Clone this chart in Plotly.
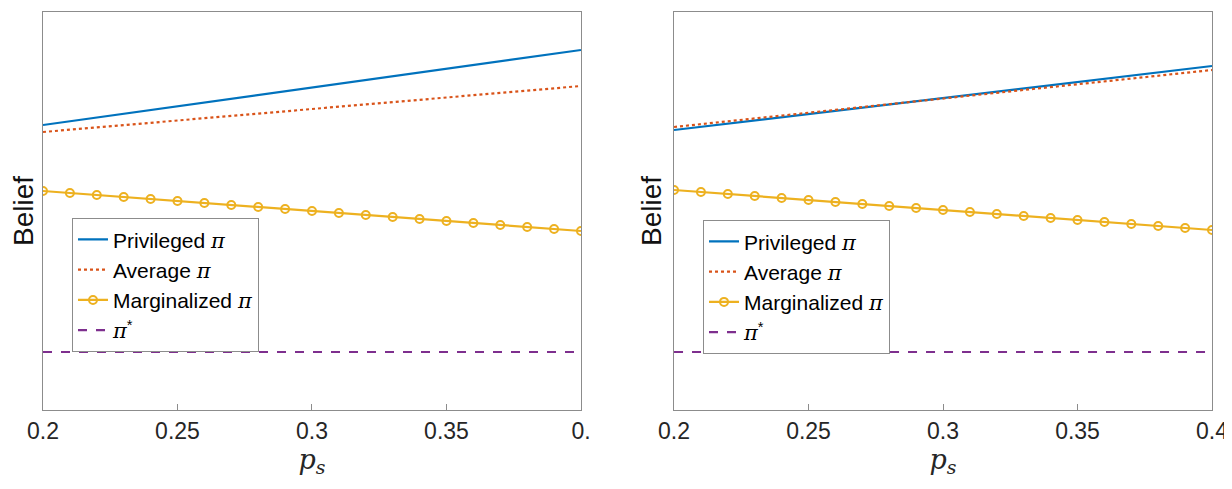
import plotly.graph_objects as go
from plotly.subplots import make_subplots

# x values (p_s)
p_s = [0.2, 0.21, 0.22, 0.23, 0.24, 0.25, 0.26, 0.27, 0.28, 0.29, 0.30,
       0.31, 0.32, 0.33, 0.34, 0.35, 0.36, 0.37, 0.38, 0.39, 0.40]
p_line = [0.2, 0.3, 0.4]

# Left panel (arbitrary belief units)
left_priv = [285, 322.5, 360]
left_avg = [278, 301, 324]
left_marg = [219, 217, 215, 213, 211, 209, 207, 205, 203, 201, 199,
             197, 195, 193, 191, 189, 187, 185, 183, 181, 179]
left_star = [58, 58, 58]

# Right panel
right_priv = [280, 312, 344]
right_avg = [283, 311.5, 340]
right_marg = [220, 218, 216, 214, 212, 210, 208, 206, 204, 202, 200,
              198, 196, 194, 192, 190, 188, 186, 184, 182, 180]
right_star = [58, 58, 58]

x_ticks = [0.2, 0.25, 0.3, 0.35, 0.4]
left_ticktext = ["0.2", "0.25", "0.3", "0.35", "0."]
right_ticktext = ["0.2", "0.25", "0.3", "0.35", "0.4"]

BLUE = "#0072BD"
ORANGE = "#D95319"
YELLOW = "#EDB120"
PURPLE = "#7E2F8E"

PI = '<span style="font-family:\'DejaVu Serif\'"><i>π</i></span>'
names = ["Privileged " + PI, "Average " + PI, "Marginalized " + PI,
         PI + "<sup>*</sup>"]

fig = make_subplots(rows=1, cols=2, horizontal_spacing=0.0796)

def add_panel(col, priv, avg, marg, star, legend):
    fig.add_trace(go.Scatter(x=p_line, y=priv, mode="lines", name=names[0],
                             line=dict(color=BLUE, width=2.2), legend=legend),
                  row=1, col=col)
    fig.add_trace(go.Scatter(x=p_line, y=avg, mode="lines", name=names[1],
                             line=dict(color=ORANGE, width=2.2, dash="dot"),
                             legend=legend), row=1, col=col)
    fig.add_trace(go.Scatter(x=p_s, y=marg, mode="lines+markers", name=names[2],
                             line=dict(color=YELLOW, width=2.2),
                             marker=dict(symbol="circle-open", size=8,
                                         color=YELLOW, line=dict(width=2)),
                             legend=legend), row=1, col=col)
    fig.add_trace(go.Scatter(x=p_line, y=star, mode="lines", name=names[3],
                             line=dict(color=PURPLE, width=2.2, dash="dash"),
                             legend=legend), row=1, col=col)

add_panel(1, left_priv, left_avg, left_marg, left_star, "legend")
add_panel(2, right_priv, right_avg, right_marg, right_star, "legend2")

axis_common = dict(showline=True, linecolor="#8c8c8c", linewidth=1, mirror=True,
                   showgrid=False, zeroline=False)
for col, tt in [(1, left_ticktext), (2, right_ticktext)]:
    fig.update_xaxes(range=[0.2, 0.4], tickvals=x_ticks, ticktext=tt,
                     ticks="inside", ticklen=6, tickcolor="#8c8c8c",
                     tickfont=dict(family="Liberation Sans", size=23, color="#262626"),
                     title=dict(text="<i>p</i><sub><i>s</i></sub>",
                                font=dict(family="DejaVu Serif", size=27, color="#262626"),
                                standoff=6),
                     **axis_common, row=1, col=col)
    fig.update_yaxes(range=[0, 398], showticklabels=False, ticks="",
                     title=dict(text="Belief",
                                font=dict(family="Liberation Sans", size=28, color="#111111"),
                                standoff=3),
                     **axis_common, row=1, col=col)

legend_common = dict(bgcolor="white", bordercolor="#8c8c8c", borderwidth=1,
                     font=dict(family="Liberation Sans", size=21, color="black"),
                     xanchor="left", yanchor="top", tracegroupgap=0,
                     itemwidth=30)
fig.update_layout(
    width=1232, height=489,
    margin=dict(l=35, r=28, t=4, b=87),
    plot_bgcolor="white", paper_bgcolor="white",
    showlegend=True,
    legend=dict(x=0.0248, y=0.482, **legend_common),
    legend2=dict(x=0.5646, y=0.477, **legend_common),
)

fig.write_html("out.html")
